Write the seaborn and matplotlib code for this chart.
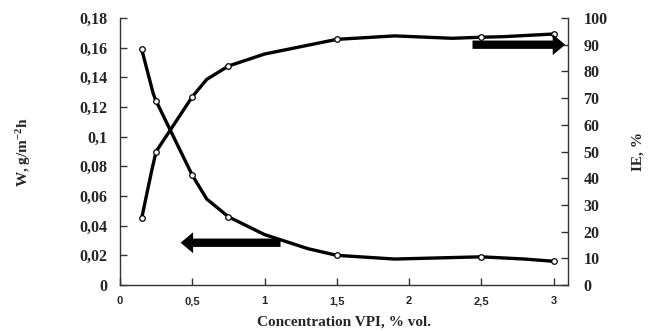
import matplotlib
matplotlib.use("Agg")
import matplotlib.pyplot as plt
import seaborn as sns
import pandas as pd

# ---- data ----
conc_marked = [0.15, 0.25, 0.5, 0.75, 1.5, 2.5, 3.0]
w_marked = [0.159, 0.124, 0.074, 0.046, 0.020, 0.019, 0.016]
ie_marked = [25.0, 50.0, 70.5, 82.0, 92.0, 92.8, 94.0]

# line traces (marked points plus unmarked positions the curves pass through)
w_line_x = [0.15, 0.23, 0.25, 0.5, 0.6, 0.75, 1.0, 1.3, 1.5, 1.9, 2.5, 2.8, 3.0]
w_line_y = [0.159, 0.129, 0.124, 0.074, 0.058, 0.046, 0.034, 0.0245, 0.020, 0.0175, 0.019, 0.0175, 0.016]
ie_line_x = [0.15, 0.22, 0.25, 0.5, 0.6, 0.75, 1.0, 1.5, 1.9, 2.3, 2.5, 2.65, 3.0]
ie_line_y = [25.0, 43.0, 50.0, 70.5, 77.0, 82.0, 86.5, 92.0, 93.3, 92.4, 92.8, 93.0, 94.0]

x_ticks = [0, 0.5, 1, 1.5, 2, 2.5, 3]
x_tick_labels = ["0", "0,5", "1", "1,5", "2", "2,5", "3"]
w_ticks = [0, 0.02, 0.04, 0.06, 0.08, 0.1, 0.12, 0.14, 0.16, 0.18]
w_tick_labels = ["0", "0,02", "0,04", "0,06", "0,08", "0,1", "0,12", "0,14", "0,16", "0,18"]
ie_ticks = [0, 10, 20, 30, 40, 50, 60, 70, 80, 90, 100]
ie_tick_labels = [str(t) for t in ie_ticks]

sns.set_style("white")
plt.rcParams["mathtext.fontset"] = "custom"
plt.rcParams["mathtext.rm"] = "Liberation Serif:bold"
plt.rcParams["mathtext.bf"] = "Liberation Serif:bold"
plt.rcParams["mathtext.default"] = "bf"
serif = ["Liberation Serif", "DejaVu Serif"]
sans = ["Liberation Sans", "DejaVu Sans"]

fig = plt.figure(figsize=(6.48, 3.31), dpi=100)
ax = fig.add_axes([120 / 648, 1 - 285 / 331, 448 / 648, 267 / 331])
ax2 = ax.twinx()

w_line = pd.DataFrame({"x": w_line_x, "y": w_line_y})
ie_line = pd.DataFrame({"x": ie_line_x, "y": ie_line_y})
w_pts = pd.DataFrame({"x": conc_marked, "y": w_marked})
ie_pts = pd.DataFrame({"x": conc_marked, "y": ie_marked})

sns.lineplot(data=w_line, x="x", y="y", ax=ax, color="black", lw=2.4, sort=False)
sns.scatterplot(data=w_pts, x="x", y="y", ax=ax, marker="o", s=16,
                facecolor="white", edgecolor="black", linewidth=0.9, zorder=5)
sns.lineplot(data=ie_line, x="x", y="y", ax=ax2, color="black", lw=2.4, sort=False)
sns.scatterplot(data=ie_pts, x="x", y="y", ax=ax2, marker="o", s=16,
                facecolor="white", edgecolor="black", linewidth=0.9, zorder=5)

ax.set_xlim(0, 3.1)
ax.set_ylim(0, 0.18)
ax2.set_ylim(0, 100)

ax.set_xticks(x_ticks)
ax.set_xticklabels(x_tick_labels, fontfamily=sans, fontweight="bold", fontsize=8)
ax.set_yticks(w_ticks)
ax.set_yticklabels(w_tick_labels, fontfamily=serif, fontweight="bold", fontsize=11.5)
ax2.set_yticks(ie_ticks)
ax2.set_yticklabels(ie_tick_labels, fontfamily=serif, fontweight="bold", fontsize=11.5)

for a in (ax, ax2):
    for side, sp in a.spines.items():
        sp.set_color("#333333")
        sp.set_linewidth(1.0)
    a.spines["top"].set_visible(False)
    a.set_xlabel("")
    a.set_ylabel("")
ax.spines["right"].set_visible(False)
ax2.spines["left"].set_visible(False)
ax2.spines["bottom"].set_visible(False)

ax.tick_params(axis="both", direction="in", length=5, width=1, color="#333333",
               left=True, bottom=True)
ax.tick_params(axis="y", pad=9)
ax.tick_params(axis="x", pad=8)
ax2.tick_params(axis="y", direction="in", length=5, width=1, color="#333333",
                right=True, pad=11)

# arrows pointing to the relevant axis
ax.annotate("", xy=(0.40, 0.0285), xytext=(1.13, 0.0285),
            arrowprops=dict(arrowstyle="simple,head_width=1.5,head_length=0.9,tail_width=0.6",
                            mutation_scale=10, color="black", lw=0), zorder=6)
ax2.annotate("", xy=(3.1, 90), xytext=(2.42, 90),
             arrowprops=dict(arrowstyle="simple,head_width=1.5,head_length=0.9,tail_width=0.6",
                             mutation_scale=10, color="black", lw=0), zorder=6,
             annotation_clip=False)

fig.text(0.5 * (120 + 568) / 648, 1 - 322 / 331, "Concentration VPI, % vol.",
         ha="center", va="center", fontfamily=serif, fontweight="bold", fontsize=11)
fig.text(24 / 648, 1 - 152 / 331, "W, g/m$^{-2}$h", rotation=90, ha="center", va="center",
         fontfamily=serif, fontweight="bold", fontsize=11)
fig.text(638 / 648, 1 - 152 / 331, "IE, %", rotation=90, ha="center", va="center",
         fontfamily=serif, fontweight="bold", fontsize=11)

fig.savefig("out.png", dpi=100)
